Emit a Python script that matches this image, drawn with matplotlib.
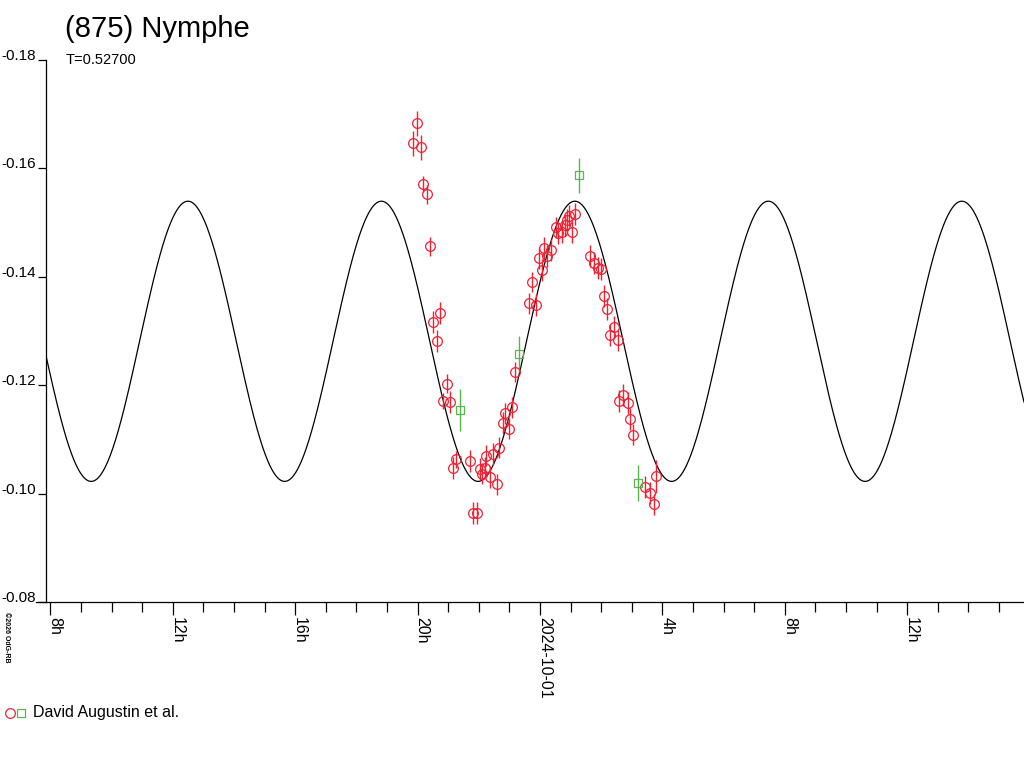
import matplotlib
matplotlib.use("Agg")
import matplotlib.pyplot as plt
import numpy as np
from matplotlib.lines import Line2D

plt.rcParams['font.family'] = ['Liberation Sans', 'DejaVu Sans']

# hours since 2024-09-30 00:00 UT, relative magnitude, error
red_t = [19.86, 19.99, 20.10, 20.19, 20.30, 20.42, 20.51, 20.73, 20.63, 20.95,
         20.82, 21.06, 21.26, 21.17, 21.71, 21.82, 21.93, 22.04, 22.10, 22.20,
         22.24, 22.37, 22.48, 22.59, 22.67, 22.78, 22.86, 23.00, 23.10, 23.18,
         23.64, 23.86, 23.75, 24.08, 23.97, 24.22, 24.14, 24.36, 24.52, 24.60,
         24.71, 24.82, 24.88, 24.96, 25.06, 25.15, 25.64, 25.77, 25.88, 26.00,
         26.10, 26.20, 26.42, 26.29, 26.54, 26.72, 26.59, 26.86, 26.94, 27.05,
         27.43, 27.59, 27.78, 27.71]
red_mag = [-0.1646, -0.1683, -0.1639, -0.1571, -0.1552, -0.1456, -0.1317, -0.1333,
           -0.1282, -0.1203, -0.1171, -0.1169, -0.1063, -0.1047, -0.1060, -0.0964,
           -0.0964, -0.1045, -0.1037, -0.1048, -0.1070, -0.1031, -0.1073, -0.1017,
           -0.1085, -0.1130, -0.1148, -0.1120, -0.1159, -0.1224, -0.1351, -0.1348,
           -0.1390, -0.1413, -0.1435, -0.1438, -0.1453, -0.1449, -0.1491, -0.1480,
           -0.1483, -0.1496, -0.1505, -0.1513, -0.1483, -0.1516, -0.1438, -0.1425,
           -0.1416, -0.1414, -0.1365, -0.1341, -0.1307, -0.1293, -0.1283, -0.1182,
           -0.1171, -0.1167, -0.1138, -0.1109, -0.1012, -0.1001, -0.1032, -0.0980]
red_err = [0.0023, 0.0023, 0.0023, 0.0015, 0.0017, 0.0018, 0.0020, 0.0020,
           0.0020, 0.0017, 0.0015, 0.0020, 0.0015, 0.0020, 0.0020, 0.0020,
           0.0020, 0.0020, 0.0020, 0.0020, 0.0020, 0.0020, 0.0020, 0.0020,
           0.0020, 0.0020, 0.0020, 0.0020, 0.0020, 0.0018, 0.0020, 0.0020,
           0.0018, 0.0020, 0.0020, 0.0020, 0.0020, 0.0020, 0.0020, 0.0020,
           0.0020, 0.0020, 0.0020, 0.0020, 0.0020, 0.0020, 0.0020, 0.0020,
           0.0020, 0.0020, 0.0020, 0.0020, 0.0020, 0.0020, 0.0020, 0.0020,
           0.0020, 0.0020, 0.0020, 0.0020, 0.0020, 0.0020, 0.0030, 0.0020]

green_t = [21.38, 23.32, 25.28, 27.20]
green_mag = [-0.1154, -0.1258, -0.1587, -0.1020]
green_err = [0.0039, 0.0033, 0.0032, 0.0033]

# fitted model: period T (days), mean, half amplitude, epoch of a maximum (h)
period_days = 0.527
mean_mag = -0.1281
half_amp = 0.02585
epoch_h = 25.14

tick_hours = [8, 12, 16, 20, 24, 28, 32, 36]
tick_labels = ['8h', '12h', '16h', '20h', '2024-10-01', '4h', '8h', '12h']
ytick_vals = [-0.18, -0.16, -0.14, -0.12, -0.10, -0.08]
ytick_labels = ['-0.18', '-0.16', '-0.14', '-0.12', '-0.10', '-0.08']

W, H = 1024, 768
fig = plt.figure(figsize=(W / 100, H / 100), dpi=100)
ax = fig.add_axes([46 / W, 1 - 602 / H, (W - 46) / W, 542 / H])

t_model = np.linspace(7.853, 39.82, 1500)
m_model = mean_mag - half_amp * np.cos(2 * np.pi * (t_model - epoch_h) / (period_days * 24 / 2))
ax.plot(t_model, m_model, color='black', lw=0.9)

red = '#ee2233'
green = '#55b848'
ax.errorbar(red_t, red_mag, yerr=red_err, fmt='o', ms=7, mfc='none', mec=red,
            mew=0.9, ecolor=red, elinewidth=1.0, capsize=0)
ax.errorbar(green_t, green_mag, yerr=green_err, fmt='s', ms=5.5, mfc='none', mec=green,
            mew=0.9, ecolor=green, elinewidth=1.0, capsize=0)

ax.set_xlim(7.853, 39.82)
ax.set_ylim(-0.08, -0.18)

ax.spines['top'].set_visible(False)
ax.spines['right'].set_visible(False)
ax.spines['left'].set_linewidth(0.9)
ax.spines['bottom'].set_linewidth(0.9)

ax.set_yticks(ytick_vals)
ax.set_yticklabels(ytick_labels, fontsize=11, va='baseline')
ax.tick_params(axis='y', length=6, width=0.9, pad=1)

ax.set_xticks(tick_hours)
ax.set_xticks(range(8, 40), minor=True)
ax.set_xticklabels(tick_labels, fontsize=11.5, rotation=270, ha='left', va='baseline',
                   rotation_mode='anchor')
ax.tick_params(axis='x', which='major', length=9, width=0.9, pad=2)
ax.tick_params(axis='x', which='minor', length=7, width=0.9)

# x axis line reaches a little left of the y axis
fig.add_artist(Line2D([36 / W, 46 / W], [1 - 602 / H, 1 - 602 / H], color='black', lw=0.9))

fig.text(65 / W, 1 - 37 / H, '(875) Nymphe', fontsize=21, va='baseline', ha='left')
fig.text(66 / W, 1 - 64 / H, 'T=0.52700', fontsize=10.5, va='baseline', ha='left')

fig.text(3 / W, 1 - 612 / H, '\u00a92026 OdG-RB', fontsize=5, fontweight='bold',
         rotation=270, ha='left', va='top')

# legend
fig.add_artist(Line2D([10 / W], [1 - 713 / H], marker='o', ms=7, mfc='none', mec=red, mew=0.9))
fig.add_artist(Line2D([21 / W], [1 - 713 / H], marker='s', ms=5.5, mfc='none', mec=green, mew=0.9))
fig.text(33 / W, 1 - 713 / H, 'David Augustin et al.', fontsize=11.5, va='center', ha='left')

fig.savefig('out.png', dpi=100)
